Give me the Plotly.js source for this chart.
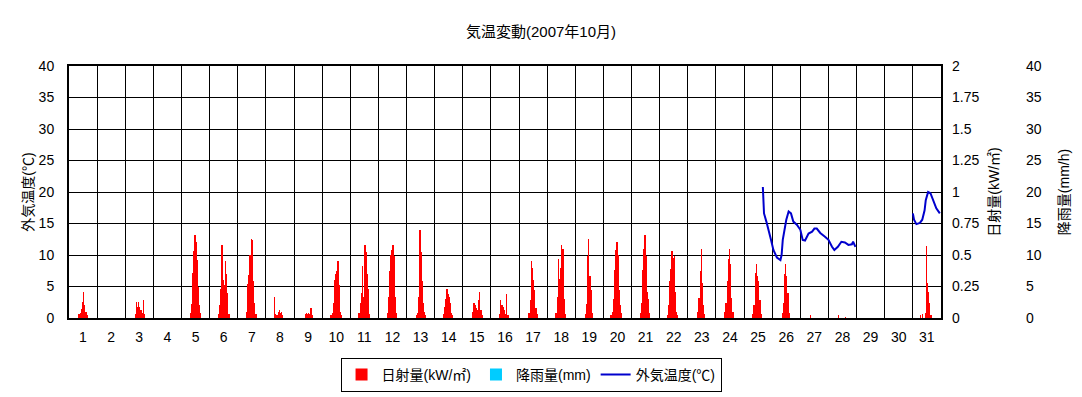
<!DOCTYPE html>
<html>
<head>
<meta charset="utf-8">
<script src="https://cdn.plot.ly/plotly-3.0.1.min.js"></script>
<style>html,body{margin:0;padding:0;background:#fff;}#chart{width:1082px;height:397px;}</style>
</head>
<body>
<div id="chart"></div>
<script>
// Day labels (October 2007)
const dayLabels = ['1','2','3','4','5','6','7','8','9','10','11','12','13','14','15','16','17','18','19','20','21','22','23','24','25','26','27','28','29','30','31'];

// Hours of the day for which solar radiation is listed
const solarHours = [6, 7, 8, 9, 10, 11, 12, 13, 14, 15, 16, 17];

// Solar radiation (kW/m2), one row per day, columns = solarHours
const solarRadiation = [
  [0, 0, 0.03, 0.04, 0.07, 0.13, 0.21, 0.10, 0.05, 0.02, 0, 0],      // 1
  [0, 0, 0, 0, 0, 0, 0, 0, 0, 0, 0, 0],                               // 2
  [0, 0, 0.03, 0.13, 0.09, 0.13, 0.09, 0.06, 0.04, 0.14, 0.03, 0],   // 3
  [0, 0, 0, 0, 0, 0, 0, 0, 0, 0, 0, 0],                               // 4
  [0, 0.04, 0.11, 0.36, 0.53, 0.66, 0.60, 0.46, 0.25, 0.10, 0.04, 0], // 5
  [0, 0.03, 0.10, 0.23, 0.58, 0.30, 0.26, 0.45, 0.35, 0.20, 0.03, 0], // 6
  [0, 0.05, 0.27, 0.34, 0.50, 0.63, 0.62, 0.29, 0.12, 0.03, 0, 0],    // 7
  [0, 0.17, 0.03, 0.02, 0.05, 0.06, 0.04, 0.05, 0.02, 0, 0, 0],       // 8
  [0, 0, 0, 0.03, 0.04, 0.03, 0.04, 0.03, 0.08, 0.02, 0, 0],          // 9
  [0, 0.02, 0.04, 0.12, 0.30, 0.35, 0.37, 0.45, 0.26, 0.05, 0.02, 0], // 10
  [0, 0.04, 0.12, 0.20, 0.41, 0.17, 0.58, 0.52, 0.35, 0.23, 0.03, 0], // 11
  [0, 0.04, 0.17, 0.37, 0.50, 0.54, 0.58, 0.49, 0.17, 0.04, 0, 0],    // 12
  [0, 0, 0.02, 0.04, 0.17, 0.70, 0.52, 0.29, 0.12, 0.05, 0.02, 0],    // 13
  [0, 0.03, 0.09, 0.15, 0.23, 0.19, 0.17, 0.12, 0.04, 0.02, 0, 0],    // 14
  [0, 0, 0.05, 0.12, 0.10, 0.08, 0.06, 0.14, 0.21, 0.06, 0.02, 0],    // 15
  [0, 0.03, 0.14, 0.10, 0.09, 0.06, 0.03, 0.19, 0.02, 0, 0, 0],       // 16
  [0, 0, 0.04, 0.14, 0.45, 0.40, 0.30, 0.22, 0.08, 0.03, 0, 0],       // 17
  [0, 0.04, 0.17, 0.47, 0.31, 0.40, 0.58, 0.55, 0.15, 0.03, 0, 0],    // 18
  [0, 0, 0.03, 0.11, 0.49, 0.63, 0.33, 0.22, 0.04, 0, 0, 0],          // 19
  [0.02, 0.05, 0.15, 0.38, 0.54, 0.60, 0.50, 0.22, 0.10, 0.04, 0, 0], // 20
  [0, 0.04, 0.12, 0.38, 0.55, 0.66, 0.49, 0.21, 0.15, 0.04, 0, 0],    // 21
  [0.02, 0.10, 0.29, 0.39, 0.53, 0.48, 0.49, 0.21, 0.05, 0.02, 0, 0], // 22
  [0, 0, 0.05, 0.16, 0.37, 0.55, 0.28, 0.10, 0.03, 0, 0, 0],          // 23
  [0, 0.05, 0.12, 0.29, 0.47, 0.55, 0.43, 0.16, 0.05, 0, 0, 0],       // 24
  [0, 0.03, 0.10, 0.36, 0.43, 0.33, 0.29, 0.14, 0.03, 0, 0, 0],       // 25
  [0, 0, 0.04, 0.12, 0.35, 0.43, 0.33, 0.20, 0.04, 0, 0, 0],          // 26
  [0, 0, 0.02, 0, 0, 0, 0, 0, 0, 0, 0, 0],                            // 27
  [0, 0, 0.02, 0, 0, 0, 0, 0, 0.01, 0, 0, 0],                         // 28
  [0, 0, 0, 0, 0, 0, 0, 0, 0, 0, 0, 0],                               // 29
  [0, 0, 0, 0, 0, 0, 0, 0, 0, 0, 0, 0],                               // 30
  [0.02, 0, 0.03, 0, 0.04, 0.57, 0.28, 0.21, 0.12, 0.02, 0, 0]        // 31
];

// Rainfall (mm/h) per day - none recorded
const rainDays = [1,2,3,4,5,6,7,8,9,10,11,12,13,14,15,16,17,18,19,20,21,22,23,24,25,26,27,28,29,30,31];
const rainValues = [0,0,0,0,0,0,0,0,0,0,0,0,0,0,0,0,0,0,0,0,0,0,0,0,0,0,0,0,0,0,0];

// Outside temperature (deg C): hour from Oct 1 00:00, value (null = missing)
const tempHours = [592, 593, 595, 597, 599, 601, 604, 607, 608, 609, 612, 614, 616, 618, 621, 624, 626, 628, 631, 634, 636, 638, 641, 645, 648, 651, 653, 656, 659, 662, 665, 668, 669, 671,
                   700,
                   720, 721, 723, 726, 728, 730, 731, 733, 735, 737, 740, 743];
const tempValues = [20.8, 16.6, 15.3, 14.0, 12.4, 10.8, 9.6, 9.2, 10.0, 12.4, 15.6, 16.9, 16.6, 15.3, 14.8, 14.0, 12.4, 12.3, 13.4, 13.7, 14.2, 14.2, 13.5, 12.9, 12.4, 11.3, 10.8, 11.3, 12.1, 12.0, 11.6, 11.7, 12.1, 11.3,
                   null,
                   16.6, 15.6, 14.9, 15.1, 15.6, 17.1, 18.7, 20.0, 19.8, 18.7, 17.4, 16.6];

// ---- build traces ----
const solarX = [], solarY = [];
solarRadiation.forEach((row, d) => {
  row.forEach((v, j) => {
    if (v > 0) { solarX.push(d * 24 + solarHours[j] + 0.5); solarY.push(v); }
  });
});
const rainX = rainDays.map(d => (d - 1) * 24 + 12);

const FONT = 'Liberation Sans, "Noto Sans CJK JP", sans-serif';

const traces = [
  {type: 'bar', name: '日射量(kW/㎡)', x: solarX, y: solarY, xaxis: 'x', yaxis: 'y2',
   width: 1, marker: {color: '#FF0000', line: {width: 0}}},
  {type: 'bar', name: '降雨量(mm)', x: rainX, y: rainValues, xaxis: 'x', yaxis: 'y3',
   width: 1, marker: {color: '#00CCFF', line: {width: 0}}},
  {type: 'scatter', mode: 'lines', name: '外気温度(℃)', x: tempHours, y: tempValues,
   xaxis: 'x', yaxis: 'y', connectgaps: false, line: {color: '#0000CD', width: 2}}
];

const tickv = dayLabels.map((_, i) => i * 24);

const layout = {
  width: 1082, height: 397,
  margin: {l: 69, r: 12, t: 66, b: 79, pad: 0, autoexpand: false},
  paper_bgcolor: '#fff', plot_bgcolor: '#fff',
  font: {family: FONT, size: 14, color: '#000'},
  title: {text: '気温変動(2007年10月)', x: 0.5, xref: 'container', y: 0.919, yref: 'container', yanchor: 'middle',
          xanchor: 'center', font: {size: 15, color: '#000'}},
  barmode: 'overlay', bargap: 0,
  showlegend: true,
  legend: {orientation: 'h', xref: 'container', yref: 'container', x: 0.4908, xanchor: 'center', y: 0.0554, yanchor: 'middle',
           bordercolor: '#000', borderwidth: 1, font: {size: 14}, traceorder: 'normal'},
  xaxis: {domain: [0, 872/1001], range: [0, 744], tickmode: 'array', tickvals: tickv, ticktext: dayLabels,
          ticklabelshift: 14, ticklabelstandoff: 5, ticks: '', showgrid: true, gridcolor: '#000', gridwidth: 1,
          zeroline: false, showline: true, linecolor: '#000', linewidth: 2, mirror: true, fixedrange: true},
  yaxis: {range: [0, 40], dtick: 5, tick0: 0, ticks: '', showgrid: true, gridcolor: '#000', gridwidth: 1,
          zeroline: false, showline: true, linecolor: '#000', linewidth: 2, mirror: true, ticklabelstandoff: 10,
          title: {text: '外気温度(℃)', standoff: 2, font: {size: 14}}},
  yaxis2: {range: [0, 2], dtick: 0.25, tick0: 0, overlaying: 'y', side: 'right', anchor: 'x', ticks: '',
           showgrid: false, zeroline: false, showline: false, ticklabelstandoff: 10,
           title: {text: '日射量(kW/㎡)', standoff: 10, font: {size: 14}}},
  yaxis3: {range: [0, 40], dtick: 5, tick0: 0, overlaying: 'y', side: 'right', anchor: 'free', position: 0.953,
           ticks: '', showgrid: false, zeroline: false, showline: false, ticklabelstandoff: 2,
           title: {text: '降雨量(mm/h)', standoff: 18, font: {size: 14}}}
};

Plotly.newPlot('chart', traces, layout, {staticPlot: true, displayModeBar: false});
</script>
</body>
</html>
